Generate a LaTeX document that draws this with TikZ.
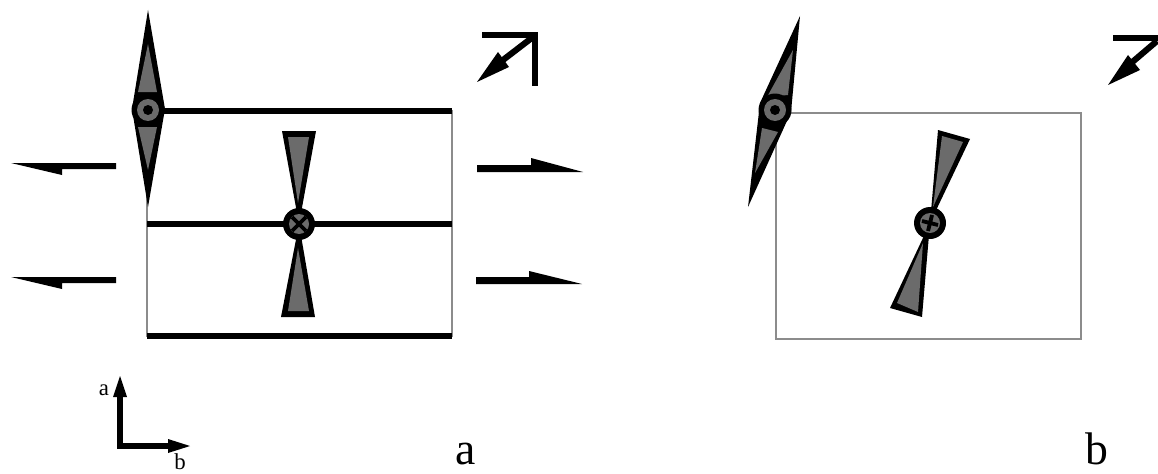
\documentclass[tikz,border=0pt]{standalone}
\usepackage{fontspec}
\setmainfont{Liberation Serif}
\usepackage{tikz}
\usetikzlibrary{arrows.meta,calc,positioning}
\definecolor{bladegray}{gray}{0.42}
\definecolor{framegray}{gray}{0.55}
\tikzset{
  frameline/.style={draw=framegray,line width=0.6pt},
  chainline/.style={line width=3.3pt,color=black},
  bladeout/.style={fill=black,draw=none},
  bladein/.style={fill=bladegray,draw=none},
  markline/.style={line width=3.5pt,color=black},
  smalllabel/.style={inner sep=0pt,anchor=base,font=\fontsize{13}{14}\selectfont},
  biglabel/.style={inner sep=0pt,anchor=base,font=\fontsize{26}{27}\selectfont}
}
\begin{document}
\begin{tikzpicture}[x=0.02cm,y=-0.02cm]
          \useasboundingbox (0,0) rectangle (1158,473);
          % panel a
          \draw[frameline] (147,111) rectangle (452,336);
          \draw[chainline] (160,111) -- (452,111);
          \draw[chainline] (147,224) -- (452,224);
          \draw[chainline] (147,336) -- (452,336);
          \fill[bladeout] (148,10) -- (165,109) -- (148,207) -- (132,109) -- cycle;
          \fill[bladein] (148,44) -- (157,92) -- (138,92) -- cycle;
          \fill[bladein] (138,127) -- (157,127) -- (148,170) -- cycle;
          \fill[black] (148,110) circle (16.5);
          \fill[bladegray] (148,110) circle (11);
          \fill[black] (148,110) circle (5);
          \fill[bladeout] (282,131) -- (316,131) -- (299,224) -- cycle;
          \fill[bladeout] (281,317) -- (315,317) -- (299,224) -- cycle;
          \fill[bladein] (288,137) -- (309,137) -- (298,203) -- cycle;
          \fill[bladein] (288,311) -- (309,311) -- (298,248) -- cycle;
          \fill[black] (299,224) circle (16);
          \fill[bladegray] (299,224) circle (10);
          \draw[line width=2.2pt] (292,217) -- (306,231) (306,217) -- (292,231);
          % shear arrows
          \fill[black] (116,163) -- (11,163) -- (62,175) -- (62,169) -- (116,169) -- cycle;
          \fill[black] (116,277) -- (11,277) -- (62,289) -- (62,283) -- (116,283) -- cycle;
          \fill[black] (477,165) -- (531,165) -- (531,158) -- (583,172) -- (477,172) -- cycle;
          \fill[black] (476,277) -- (529,277) -- (529,271) -- (582,284) -- (476,284) -- cycle;
          % view mark a
          \draw[markline,line cap=butt,line join=miter] (482,35) -- (535,35) -- (535,86);
          \draw[markline] (533,37) -- (503,60);
          \fill[black] (477,82) -- (498,52) -- (509,67) -- cycle;
          % axes
          \draw[markline,line join=miter] (120,397) -- (120,446) -- (168,446);
          \fill[black] (120,376) -- (127,397) -- (113,397) -- cycle;
          \fill[black] (190,446) -- (168,439) -- (168,453) -- cycle;
          \node[smalllabel] (labA) at (104,395) {a};
          \node[smalllabel] (labB) at (180,469) {b};
          \node[biglabel] (panelA) at (466,464) {a};
          % panel b
          \draw[frameline] (776,113) rectangle (1081,339);
          \fill[bladeout] (800,16) -- (791,112) -- (748,207) -- (760,103) -- cycle;
          \fill[bladein] (793,50) -- (788,95) -- (767,97) -- cycle;
          \fill[bladein] (762,128) -- (778,132) -- (755,173) -- cycle;
          \fill[black] (775,110) circle (16.5);
          \fill[bladegray] (775,110) circle (11);
          \fill[black] (775,110) circle (5);
          \fill[bladeout] (938,130) -- (970,139) -- (930,223) -- cycle;
          \fill[bladeout] (890,308) -- (922,317) -- (930,223) -- cycle;
          \fill[bladein] (942,136) -- (963,142) -- (933,207) -- cycle;
          \fill[bladein] (897,303) -- (918,312) -- (923,243) -- cycle;
          \fill[black] (930,223) circle (16);
          \fill[bladegray] (930,223) circle (10);
          \draw[line width=2.2pt] (922,221) -- (938,225) (932,215) -- (928,231);
          % view mark b
          \draw[markline,line cap=butt] (1113,38) -- (1158,38);
          \draw[markline] (1157,41) -- (1130,64);
          \fill[black] (1108,85) -- (1128,55) -- (1140,70) -- cycle;
          \node[biglabel] (panelB) at (1097,464) {b};
        \end{tikzpicture}
\end{document}
